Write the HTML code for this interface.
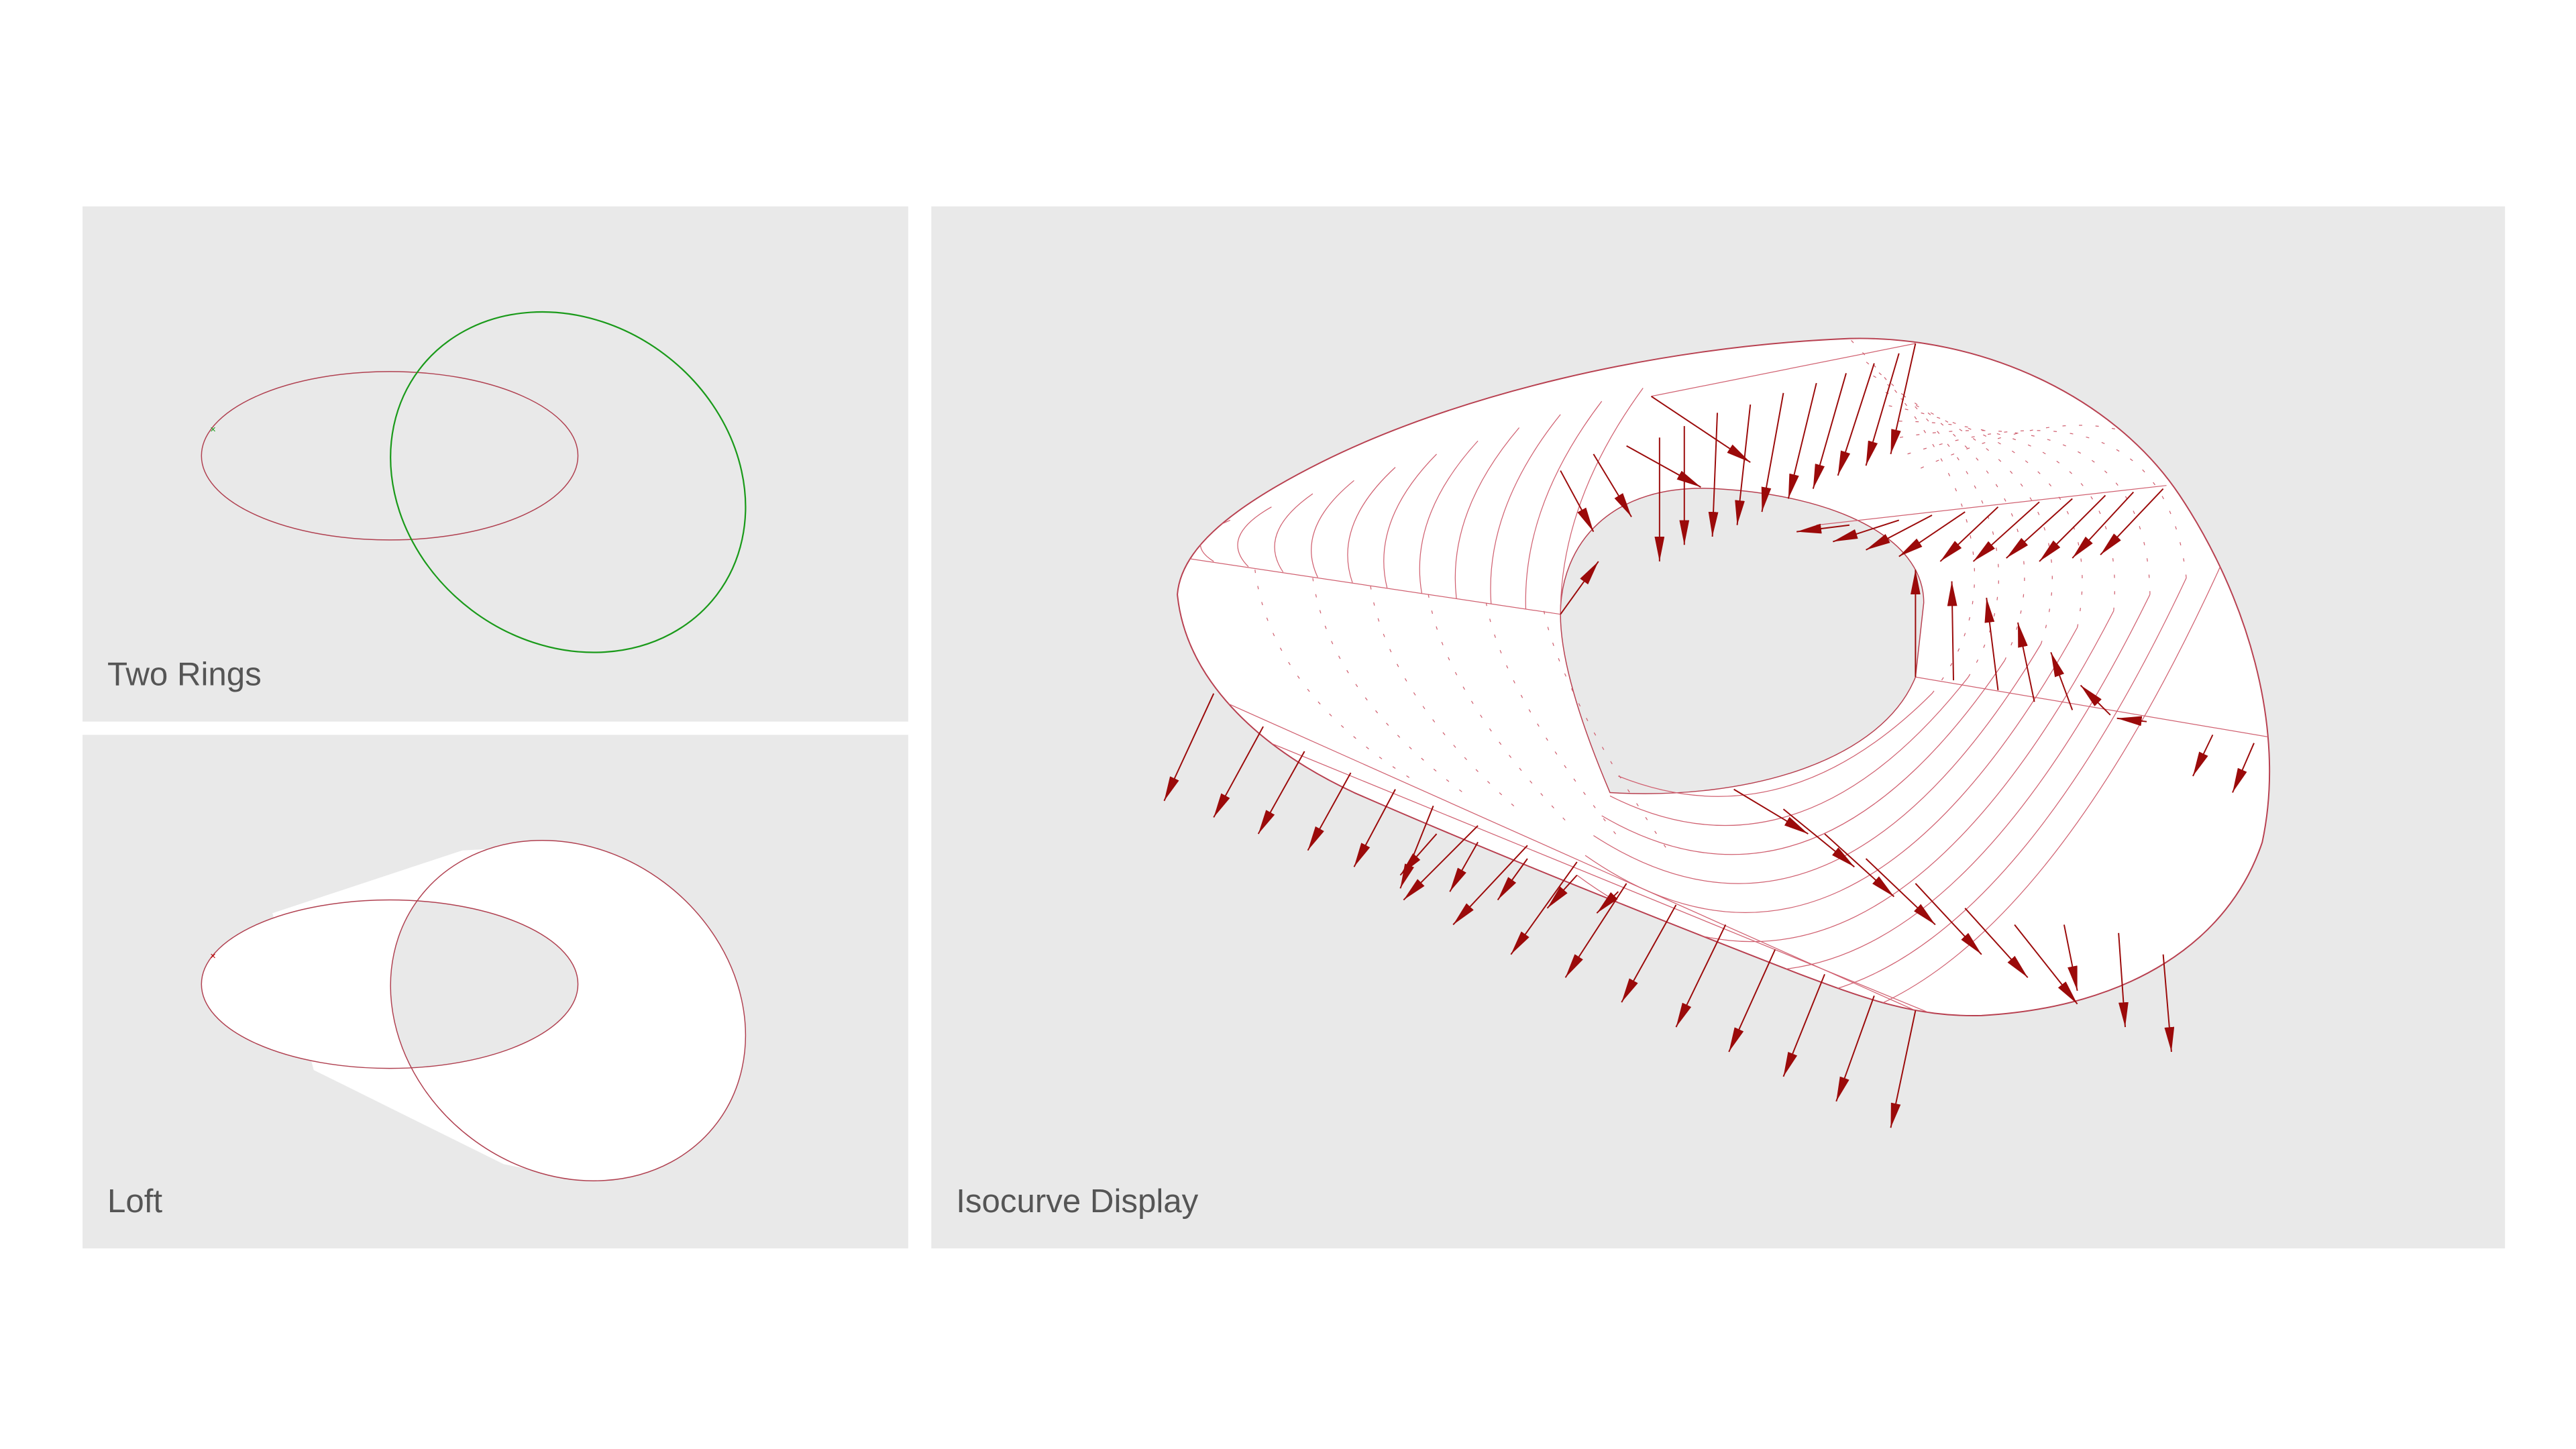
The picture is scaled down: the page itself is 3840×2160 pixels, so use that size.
<!DOCTYPE html>
<html><head><meta charset="utf-8"><style>
html,body{margin:0;padding:0;background:#fff}
svg{display:block}
text{font-family:"Liberation Sans",sans-serif;fill:#555}
</style></head><body>
<svg width="3840" height="2160" viewBox="0 0 1560 877.5" preserveAspectRatio="none" xmlns="http://www.w3.org/2000/svg">
<defs>
<clipPath id="outerClip"><path id="outerPathC" d="M713 360 C715 335 740 310 800 280 C880 240 1000 210 1120 205 C1200 203 1280 240 1320 300 C1360 360 1385 440 1370 510 C1350 570 1290 610 1200 615 C1160 616 1130 605 1090 590 C1000 555 900 515 820 480 C760 452 718 410 713 360 Z"/></clipPath>
<clipPath id="greenIn"><ellipse cx="344" cy="612" rx="113" ry="97" transform="rotate(37 344 612)"/></clipPath>
<marker id="ah" viewBox="0 0 10 10" refX="10" refY="5" markerWidth="15" markerHeight="6" orient="auto" markerUnits="userSpaceOnUse" preserveAspectRatio="none"><path d="M0 0 L10 5 L0 10 Z" fill="#9b0a0a"/></marker>
</defs>

<!-- Panel A -->
<g>
<rect x="50" y="125" width="500" height="312" fill="#e9e9e9"/>
<ellipse cx="236" cy="276" rx="114" ry="51" fill="none" stroke="#b04050" stroke-width="0.6"/>
<ellipse cx="344" cy="292" rx="113" ry="97" transform="rotate(37 344 292)" fill="none" stroke="#1a9a1a" stroke-width="0.9"/>
<text x="129" y="262" font-size="6" text-anchor="middle" style="fill:#1a9a1a">×</text>
<text x="65" y="415" font-size="20">Two Rings</text>
</g>

<!-- Panel B -->
<g>
<rect x="50" y="445" width="500" height="311" fill="#e9e9e9"/>
<g fill="#fff">
<polygon points="165,553 280,515 335,512 350,714 305,705 190,648"/>
<ellipse cx="236" cy="596" rx="114" ry="51"/>
<ellipse cx="344" cy="612" rx="113" ry="97" transform="rotate(37 344 612)"/>
</g>
<ellipse cx="236" cy="596" rx="114" ry="51" fill="#e9e9e9" clip-path="url(#greenIn)"/>
<ellipse cx="236" cy="596" rx="114" ry="51" fill="none" stroke="#b04050" stroke-width="0.6"/>
<ellipse cx="344" cy="612" rx="113" ry="97" transform="rotate(37 344 612)" fill="none" stroke="#b04050" stroke-width="0.6"/>
<text x="129" y="581" font-size="6" text-anchor="middle" style="fill:#b00">×</text>
<text x="65" y="734" font-size="20">Loft</text>
</g>

<!-- Panel C -->
<g>
<rect x="564" y="125" width="953" height="631" fill="#e9e9e9"/>
<use href="#outerPathC" fill="#fff"/>
<path d="M945 372 C945 330 975 292 1040 296 C1110 300 1165 325 1165 365 L1160 410 C1140 460 1060 485 975 480 C958 440 945 400 945 372 Z" fill="#e9e9e9" stroke="#b84050" stroke-width="0.6"/>
<use href="#outerPathC" fill="none" stroke="#b84050" stroke-width="0.8"/>
<g id="iso" clip-path="url(#outerClip)" fill="none" stroke="#d06070" stroke-width="0.5"></g>
<g id="arrows" stroke="#9b0a0a" stroke-width="0.8" fill="none"></g>
<text x="579" y="734" font-size="20">Isocurve Display</text>
</g>
</svg>
<script>
const arrowStarts = [
 [735,420],[765,440],[790,455],[818,468],[845,478],[868,488],[895,500],[925,512],[955,522],[985,535],[1015,548],[1045,560],[1075,575],[1105,590],[1135,603],[1160,612],
 [870,505],[895,510],[925,520],[955,530],[980,540],
 [1283,565],[1310,578],
 [1050,478],[1080,490],[1105,505],[1130,520],[1160,535],[1190,550],[1220,560],[1250,560],
 [1160,410],[1183,412],[1210,418],[1232,425],[1255,430],[1278,433],[1300,437],
 [1340,445],[1365,450],
 [1120,318],[1150,315],[1170,312],[1190,310],[1210,307],[1235,304],[1255,302],[1275,300],[1292,298],[1310,296],
 [945,285],[965,275],[1005,265],[1020,258],[1040,250],[1060,245],[1080,238],[1100,232],[1118,226],[1135,220],[1150,214],[1160,208],
 [985,270],[1000,240],[945,372]
];
const arrowEnds = [
 [705,485],[735,495],[762,505],[792,515],[820,525],[848,538],[850,545],[880,560],[915,578],[948,592],[982,607],[1015,622],[1047,637],[1080,652],[1112,667],[1145,683],
 [848,530],[878,540],[907,545],[937,550],[967,553],
 [1287,622],[1315,637],
 [1095,505],[1123,525],[1147,543],[1172,560],[1200,578],[1228,592],[1258,608],[1258,600],
 [1160,345],[1182,352],[1203,362],[1222,377],[1242,395],[1260,415],[1282,435],
 [1328,470],[1352,480],
 [1088,322],[1110,328],[1130,333],[1150,337],[1175,340],[1195,340],[1215,338],[1235,340],[1255,338],[1272,336],
 [965,322],[988,313],[1005,340],[1020,330],[1037,325],[1052,318],[1067,310],[1083,302],[1098,296],[1113,288],[1130,282],[1145,275],
 [1030,295],[1060,280],[968,340]
];
const NS='http://www.w3.org/2000/svg';
const ag=document.getElementById('arrows');
for(let i=0;i<arrowStarts.length;i++){
 const l=document.createElementNS(NS,'line');
 l.setAttribute('x1',arrowStarts[i][0]);l.setAttribute('y1',arrowStarts[i][1]);
 l.setAttribute('x2',arrowEnds[i][0]);l.setAttribute('y2',arrowEnds[i][1]);
 l.setAttribute('marker-end','url(#ah)');
 
 
 ag.appendChild(l);
}
const ig=document.getElementById('iso');
function P(d,dash){const p=document.createElementNS(NS,'path');p.setAttribute('d',d);if(dash)p.setAttribute('stroke-dasharray','2 8');
 
 
 ig.appendChild(p);}
P('M718 338 L945 372');P('M1160 410 L1378 447');P('M1100 318 L1312 294');P('M730 420 L1160 612');P('M745 440 L1170 614');P('M1000 240 L1160 208');
const topU=[0,1,2,3,4,5,6,7,8,9,10];
topU.forEach(i=>{const t=i/10;
 const tx=745+t*250, ty=315-t*80, bx=735+t*210, by=340+t*32;
 P(`M${tx} ${ty} Q${(tx+bx)/2-25} ${(ty+by)/2} ${bx} ${by}`);});
for(let k=0;k<9;k++){
 P(`M${980-k*5} ${470+k*12} Q${1080+k*10} ${510+k*30} ${1170+k*22} ${420-k*10}`);
 P(`M${1170+k*22} ${420-k*10} Q${1240+k*10} ${330-k*15} ${1120+k*5} ${205+k*10}`,true);}
for(let k=0;k<6;k++){P(`M${760+k*35} ${345+k*5} Q${770+k*35} ${420} ${860+k*30} ${475+k*8}`,true);}
</script>
</body></html>
